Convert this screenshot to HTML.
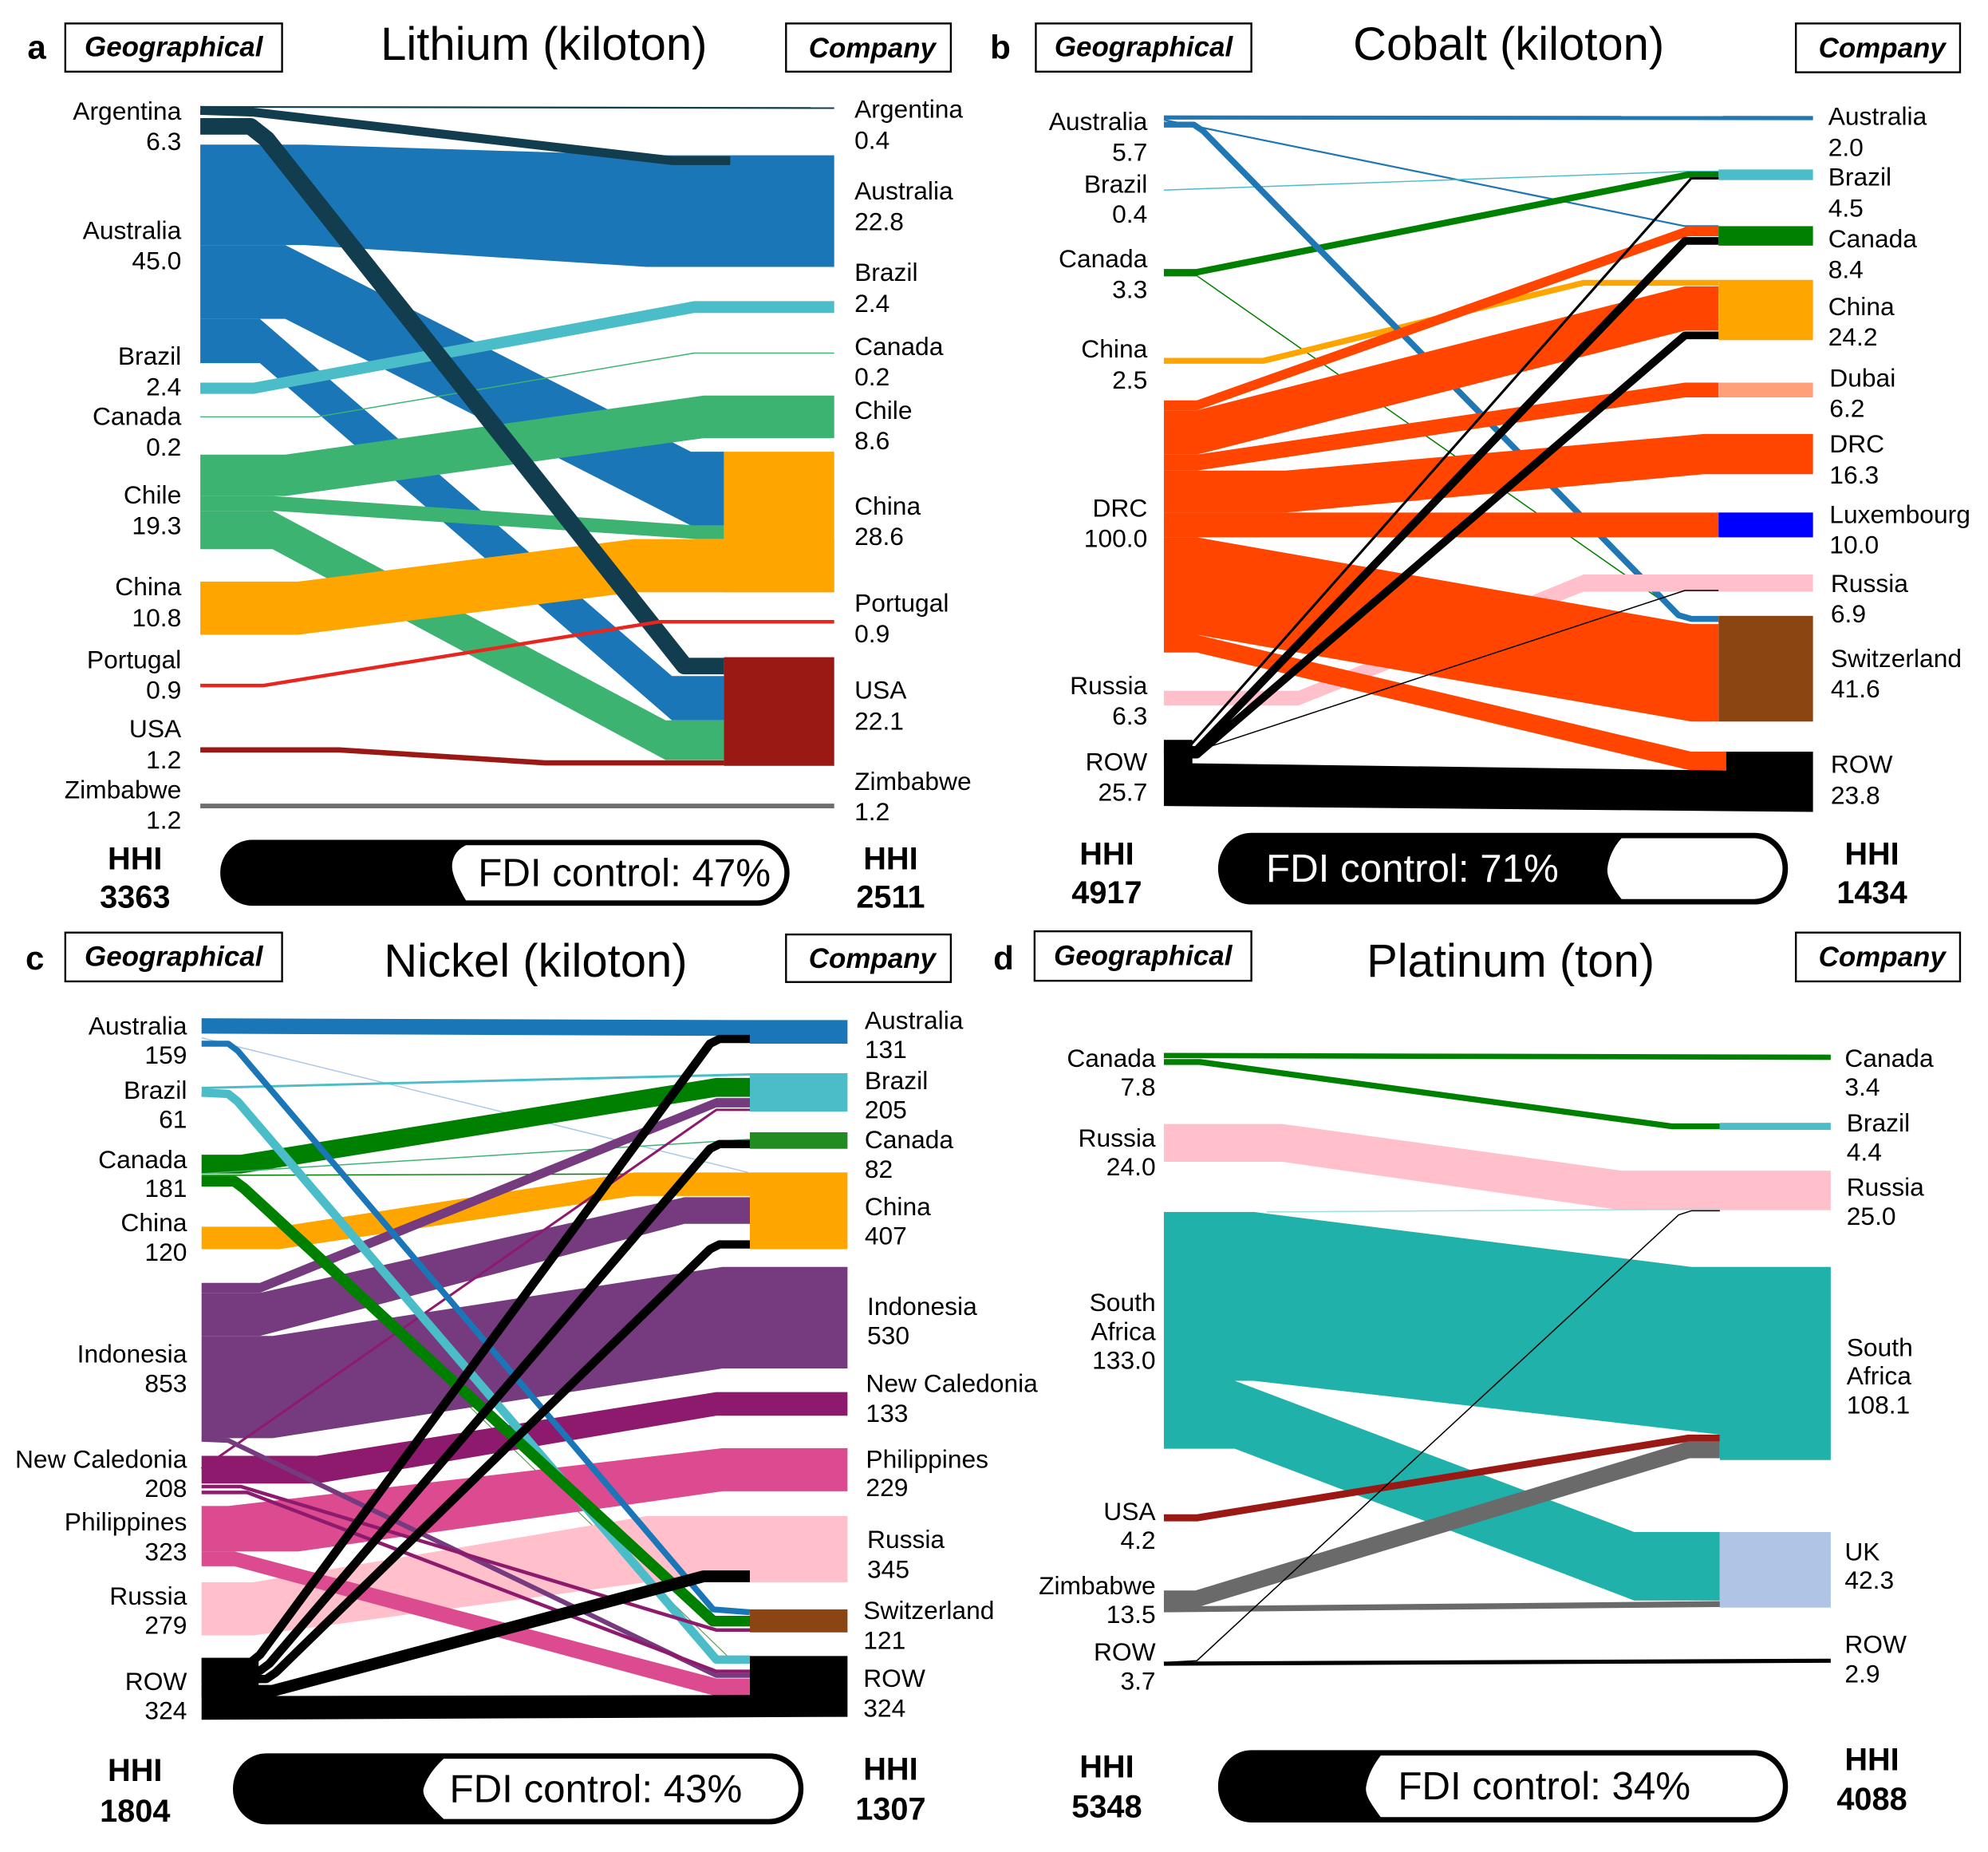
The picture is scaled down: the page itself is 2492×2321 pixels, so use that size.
<!DOCTYPE html>
<html><head><meta charset="utf-8"><style>
html,body{margin:0;padding:0;background:#fff}
svg{display:block}
text{font-family:"Liberation Sans",Arial,sans-serif;fill:#000}
.l{font-size:40px;dominant-baseline:central}
.e{text-anchor:end}
.t{font-size:73px;text-anchor:middle;dominant-baseline:central}
.bx{font-size:44px;font-weight:bold;font-style:italic;text-anchor:middle;dominant-baseline:central}
.h{font-size:50px;font-weight:bold;text-anchor:middle;dominant-baseline:central}
.f{font-size:62px;text-anchor:middle;dominant-baseline:central}
.pl{font-size:53px;font-weight:bold;text-anchor:middle;dominant-baseline:central}
polyline{fill:none;stroke-linejoin:round}
</style></head><body>
<svg width="2492" height="2321" viewBox="0 0 2492 2321" xmlns="http://www.w3.org/2000/svg">
<rect width="2492" height="2321" fill="#fff"/>

<!-- ================= PANEL A shapes ================= -->
<g transform="translate(0,0) scale(0.7946,0.74)">
<polyline points="316,181 1316,183" stroke="#123d4f" stroke-width="3"/>
<polygon fill="#1a76b7" points="316,245 480,245 1020,263 1316,263 1316,452 1020,452 480,415 316,415"/>
<polygon fill="#1a76b7" points="316,415 450,415 1090,765 1142,765 1142,890 1090,890 450,540 316,540"/>
<polygon fill="#1a76b7" points="316,540 410,540 1060,1145 1142,1145 1142,1220 1060,1220 410,615 316,615"/>
<polyline points="316,187 400,190 1060,272 1152,272" stroke="#123d4f" stroke-width="15"/>
<polygon fill="#4bbdc8" points="316,648 400,648 1095,510 1316,510 1316,530 1095,530 400,667 316,667"/>
<polyline points="316,706 500,706 1095,598 1316,598" stroke="#3cb371" stroke-width="2"/>
<polygon fill="#3cb371" points="316,770 450,770 1110,670 1316,670 1316,742 1110,742 450,840 316,840"/>
<polygon fill="#3cb371" points="316,840 430,840 1100,890 1142,890 1142,913 1100,913 430,865 316,865"/>
<polygon fill="#3cb371" points="316,865 430,865 1050,1220 1142,1220 1142,1287 1050,1287 430,930 316,930"/>
<polygon fill="#ffa500" points="316,985 470,985 1000,913 1316,913 1316,1003 1000,1003 470,1075 316,1075"/>
<rect x="1142" y="765" width="174" height="238" fill="#ffa500"/>
<polyline points="316,214 395,214 420,235 1080,1128 1142,1128" stroke="#123d4f" stroke-width="28"/>
<rect x="1142" y="1113" width="174" height="184" fill="#9b1915"/>
<polyline points="316,1161 415,1161 1040,1053 1316,1053" stroke="#e8261e" stroke-width="6"/>
<polyline points="316,1270 535,1270 860,1292 1142,1292" stroke="#9b1915" stroke-width="9"/>
<polyline points="316,1365 1316,1365" stroke="#6e6e6e" stroke-width="8"/>
</g>

<!-- ================= PANEL B shapes ================= -->
<g transform="translate(1246,0) scale(0.7946,0.74)">
<polyline points="268,199 1292,200" stroke="#1f77b4" stroke-width="7"/>
<polyline points="268,203 1090,383 1143,383" stroke="#1f77b4" stroke-width="3"/>
<polyline points="268,322 1100,290 1143,290" stroke="#4bbdc8" stroke-width="2"/>
<rect x="1143" y="287" width="149" height="18" fill="#4bbdc8"/>
<polyline points="268,461 320,461 1095,296 1143,296" stroke="#008000" stroke-width="11"/>
<polyline points="268,467 320,467 1100,1052 1143,1052" stroke="#008000" stroke-width="2"/>
<polyline points="268,611 425,611 930,479 1143,479" stroke="#ffa500" stroke-width="10"/>
<polyline points="268,211 315,211 330,222 1080,1042 1100,1048 1143,1048" stroke="#1f77b4" stroke-width="10"/>
<polygon fill="#ffc0cb" points="268,1170 480,1170 930,973 1292,973 1292,1002 930,1002 480,1195 268,1195"/>
<rect x="1143" y="1043" width="149" height="179" fill="#8b4513"/>
<polygon fill="#ff4500" points="268,678 320,678 1095,383 1143,383 1143,400 1095,400 320,695 268,695"/>
<polygon fill="#ff4500" points="268,695 320,695 1090,485 1143,485 1143,560 1090,560 320,770 268,770"/>
<polygon fill="#ff4500" points="268,770 320,770 1090,648 1143,648 1143,673 1090,673 320,797 268,797"/>
<polygon fill="#ff4500" points="268,797 460,797 1120,735 1292,735 1292,803 1120,803 460,868 268,868"/>
<polygon fill="#ff4500" points="268,868 1143,868 1143,910 268,910"/>
<polygon fill="#ff4500" points="268,910 320,910 1100,1057 1143,1057 1143,1222 1100,1222 320,1075 268,1075"/>
<polygon fill="#ff4500" points="268,1075 320,1075 1100,1273 1155,1273 1155,1305 1100,1305 320,1105 268,1105"/>
<rect x="1143" y="383" width="149" height="33" fill="#008000"/>
<rect x="1143" y="474" width="149" height="102" fill="#ffa500"/>
<rect x="1143" y="648" width="149" height="25" fill="#ffa07a"/>
<rect x="1143" y="868" width="149" height="42" fill="#0000ff"/>
<polygon fill="#000" points="268,1292 1155,1305 1155,1273 1292,1273 1292,1375 268,1365"/>
<rect x="268" y="1253" width="45" height="40" fill="#000"/>
<polyline points="268,1262 310,1262 1100,302 1143,302" stroke="#000" stroke-width="4"/>
<polyline points="268,1270 320,1270 1090,408 1143,408" stroke="#000" stroke-width="13"/>
<polyline points="268,1278 320,1278 1090,568 1143,568" stroke="#000" stroke-width="13"/>
<polyline points="268,1290 1090,1000 1143,1000" stroke="#000" stroke-width="2"/>
</g>

<!-- ================= PANEL C shapes ================= -->
<g transform="translate(0,1160) scale(0.7946,0.74)">
<polygon fill="#1a76b7" points="318,157 1183,160 1337,160 1337,200 1183,200 1183,187 318,183"/>
<polyline points="318,190 1180,418" stroke="#aac8e6" stroke-width="2"/>
<polyline points="318,275 1183,252" stroke="#4bbdc8" stroke-width="4"/>
<rect x="1183" y="250" width="154" height="65" fill="#4bbdc8"/>
<rect x="1183" y="350" width="154" height="28" fill="#228b22"/>
<polygon fill="#008000" points="318,388 380,388 1130,258 1183,258 1183,290 1130,290 380,420 318,420"/>
<polyline points="318,420 1183,362" stroke="#3cb371" stroke-width="2"/>
<polyline points="318,423 1183,420" stroke="#008000" stroke-width="2"/>
<polygon fill="#ffa500" points="318,510 440,510 1000,418 1183,418 1183,458 1000,458 440,548 318,548"/>
<rect x="1183" y="418" width="154" height="130" fill="#ffa500"/>
<polyline points="318,440 380,440 1160,1250" stroke="#5a9a5a" stroke-width="1.5"/>
<polygon fill="#763a7f" points="318,605 410,605 1130,292 1183,292 1183,308 1130,308 410,622 318,622"/>
<polygon fill="#763a7f" points="318,622 410,622 1080,460 1183,460 1183,505 1080,505 410,695 318,695"/>
<polygon fill="#763a7f" points="318,695 430,695 1140,578 1337,578 1337,750 1140,750 430,868 318,868"/>
<polygon fill="#ffc0cb" points="318,1112 400,1112 1020,1000 1337,1000 1337,1112 1020,1112 400,1202 318,1202"/>
<polygon fill="#8e1a6e" points="318,898 500,898 1130,790 1337,790 1337,830 1130,830 500,945 318,945"/>
<polygon fill="#dc4a8f" points="318,983 360,983 1140,885 1337,885 1337,958 1140,958 470,1060 318,1060"/>
<polyline points="318,920 1130,312 1183,312" stroke="#8e1a6e" stroke-width="4"/>
<polyline points="318,200 360,200 375,212 1125,1158 1183,1163" stroke="#1a76b7" stroke-width="10"/>
<polyline points="318,283 360,285 375,298 1130,1243 1183,1243" stroke="#4bbdc8" stroke-width="14"/>
<polyline points="318,433 370,433 385,445 1125,1178 1183,1178" stroke="#008000" stroke-width="18"/>
<polyline points="318,870 360,872 1130,1270 1183,1270" stroke="#763a7f" stroke-width="8"/>
<polyline points="318,950 380,950 1130,1193 1183,1193" stroke="#8e1a6e" stroke-width="6"/>
<polyline points="318,960 390,960 1130,1263 1183,1263" stroke="#8e1a6e" stroke-width="6"/>
<polygon fill="#dc4a8f" points="318,1060 370,1060 1130,1275 1183,1275 1183,1305 1130,1305 370,1085 318,1085"/>
<rect x="1183" y="1158" width="154" height="39" fill="#8b4513"/>
<polygon fill="#000" points="318,1305 1183,1303 1183,1237 1337,1237 1337,1340 318,1345"/>
<rect x="318" y="1240" width="90" height="65" fill="#000"/>
<polyline points="318,1248 395,1248 410,1235 1120,200 1135,192 1183,192" stroke="#000" stroke-width="14"/>
<polyline points="318,1262 410,1262 425,1250 1120,378 1135,370 1183,370" stroke="#000" stroke-width="14"/>
<polyline points="318,1276 420,1276 435,1265 1120,548 1135,540 1183,540" stroke="#000" stroke-width="14"/>
<polyline points="318,1296 430,1296 1110,1102 1183,1102" stroke="#000" stroke-width="20"/>
</g>

<!-- ================= PANEL D shapes ================= -->
<g transform="translate(1246,1160) scale(0.7946,0.74)">
<polyline points="268,220 1320,223" stroke="#008000" stroke-width="9"/>
<polyline points="268,231 325,231 1070,340 1145,340" stroke="#008000" stroke-width="10"/>
<rect x="1145" y="334" width="175" height="12" fill="#4bbdc8"/>
<polygon fill="#ffc0cb" points="268,336 455,336 990,415 1320,415 1320,482 990,482 455,400 268,400"/>
<polygon fill="#20b2aa" points="268,485 410,485 1100,578 1320,578 1320,905 1145,905 1145,862 410,771 268,771"/>
<polyline points="430,485 1145,480" stroke="#9fe0dc" stroke-width="2"/>
<polygon fill="#20b2aa" points="268,771 380,771 1010,1027 1145,1027 1145,1143 1010,1143 380,886 268,886"/>
<rect x="1145" y="1027" width="175" height="128" fill="#b0c4e6"/>
<polyline points="268,1003 320,1003 1095,868 1145,868" stroke="#9b1915" stroke-width="12"/>
<polyline points="268,1140 320,1140 1095,888 1145,888" stroke="#6a6a6a" stroke-width="28"/>
<polyline points="268,1158 1145,1149" stroke="#6a6a6a" stroke-width="10"/>
<polyline points="268,1248 320,1245 1080,490 1100,483 1145,483" stroke="#000" stroke-width="2"/>
<polyline points="268,1250 1320,1245" stroke="#000" stroke-width="7"/>
</g>

<!-- ================= TEXT / FRAMES (uniform scale) ================= -->
<!-- Panel A -->
<g transform="translate(0,0) scale(0.7946)">
<text class="pl" x="58" y="74">a</text>
<rect x="103" y="37" width="342" height="76" fill="none" stroke="#000" stroke-width="3"/>
<text class="bx" x="274" y="74">Geographical</text>
<text class="t" x="858" y="70">Lithium (kiloton)</text>
<rect x="1240" y="37" width="260" height="76" fill="none" stroke="#000" stroke-width="3"/>
<text class="bx" x="1376" y="76">Company</text>
<text class="l e" x="286" y="175">Argentina</text><text class="l e" x="286" y="223">6.3</text>
<text class="l e" x="286" y="363">Australia</text><text class="l e" x="286" y="411">45.0</text>
<text class="l e" x="286" y="561">Brazil</text><text class="l e" x="286" y="610">2.4</text>
<text class="l e" x="286" y="656">Canada</text><text class="l e" x="286" y="705">0.2</text>
<text class="l e" x="286" y="780">Chile</text><text class="l e" x="286" y="829">19.3</text>
<text class="l e" x="286" y="925">China</text><text class="l e" x="286" y="974">10.8</text>
<text class="l e" x="286" y="1040">Portugal</text><text class="l e" x="286" y="1088">0.9</text>
<text class="l e" x="286" y="1149">USA</text><text class="l e" x="286" y="1198">1.2</text>
<text class="l e" x="286" y="1245">Zimbabwe</text><text class="l e" x="286" y="1293">1.2</text>
<text class="l" x="1348" y="172">Argentina</text><text class="l" x="1348" y="221">0.4</text>
<text class="l" x="1348" y="301">Australia</text><text class="l" x="1348" y="349">22.8</text>
<text class="l" x="1348" y="429">Brazil</text><text class="l" x="1348" y="478">2.4</text>
<text class="l" x="1348" y="546">Canada</text><text class="l" x="1348" y="594">0.2</text>
<text class="l" x="1348" y="647">Chile</text><text class="l" x="1348" y="695">8.6</text>
<text class="l" x="1348" y="798">China</text><text class="l" x="1348" y="846">28.6</text>
<text class="l" x="1348" y="951">Portugal</text><text class="l" x="1348" y="999">0.9</text>
<text class="l" x="1348" y="1088">USA</text><text class="l" x="1348" y="1137">22.1</text>
<text class="l" x="1348" y="1232">Zimbabwe</text><text class="l" x="1348" y="1280">1.2</text>
<text class="h" x="213" y="1355">HHI</text><text class="h" x="213" y="1415">3363</text>
<text class="h" x="1405" y="1355">HHI</text><text class="h" x="1405" y="1415">2511</text>
<rect x="350" y="1327" width="893" height="99" rx="48" ry="49" fill="#000" stroke="#000" stroke-width="5"/>
<path d="M735,1333 L1195,1333 A42,43 0 0 1 1195,1420 L735,1420 C715,1385 710,1370 715,1355 C718,1345 725,1338 735,1333 Z" fill="#fff"/>
<text class="f" x="985" y="1377">FDI control: 47%</text>
</g>

<!-- Panel B -->
<g transform="translate(1246,0) scale(0.7946)">
<text class="pl" x="10" y="74">b</text>
<rect x="66" y="37" width="340" height="76" fill="none" stroke="#000" stroke-width="3"/>
<text class="bx" x="236" y="74">Geographical</text>
<text class="t" x="812" y="70">Cobalt (kiloton)</text>
<rect x="1265" y="37" width="259" height="77" fill="none" stroke="#000" stroke-width="3"/>
<text class="bx" x="1401" y="76">Company</text>
<text class="l e" x="242" y="191">Australia</text><text class="l e" x="242" y="240">5.7</text>
<text class="l e" x="242" y="290">Brazil</text><text class="l e" x="242" y="337">0.4</text>
<text class="l e" x="242" y="408">Canada</text><text class="l e" x="242" y="456">3.3</text>
<text class="l e" x="242" y="550">China</text><text class="l e" x="242" y="599">2.5</text>
<text class="l e" x="242" y="801">DRC</text><text class="l e" x="242" y="849">100.0</text>
<text class="l e" x="242" y="1081">Russia</text><text class="l e" x="242" y="1129">6.3</text>
<text class="l e" x="242" y="1201">ROW</text><text class="l e" x="242" y="1249">25.7</text>
<text class="l" x="1316" y="183">Australia</text><text class="l" x="1316" y="232">2.0</text>
<text class="l" x="1316" y="279">Brazil</text><text class="l" x="1316" y="328">4.5</text>
<text class="l" x="1316" y="376">Canada</text><text class="l" x="1316" y="425">8.4</text>
<text class="l" x="1316" y="483">China</text><text class="l" x="1316" y="531">24.2</text>
<text class="l" x="1318" y="596">Dubai</text><text class="l" x="1318" y="644">6.2</text>
<text class="l" x="1318" y="700">DRC</text><text class="l" x="1318" y="749">16.3</text>
<text class="l" x="1318" y="811">Luxembourg</text><text class="l" x="1318" y="859">10.0</text>
<text class="l" x="1320" y="920">Russia</text><text class="l" x="1320" y="968">6.9</text>
<text class="l" x="1320" y="1038">Switzerland</text><text class="l" x="1320" y="1086">41.6</text>
<text class="l" x="1320" y="1205">ROW</text><text class="l" x="1320" y="1254">23.8</text>
<text class="h" x="178" y="1347">HHI</text><text class="h" x="178" y="1408">4917</text>
<text class="h" x="1385" y="1347">HHI</text><text class="h" x="1385" y="1408">1434</text>
<rect x="356" y="1316" width="894" height="108" rx="50" ry="54" fill="#000" stroke="#000" stroke-width="5"/>
<path d="M990,1322 L1198,1322 A46,48 0 0 1 1198,1418 L990,1418 C972,1395 966,1380 968,1368 C970,1352 978,1335 990,1322 Z" fill="#fff"/>
<text class="f" x="660" y="1370" style="fill:#fff">FDI control: 71%</text>
</g>

<!-- Panel C -->
<g transform="translate(0,1160) scale(0.7946)">
<text class="pl" x="55" y="51">c</text>
<rect x="103" y="11" width="342" height="77" fill="none" stroke="#000" stroke-width="3"/>
<text class="bx" x="274" y="49">Geographical</text>
<text class="t" x="845" y="56">Nickel (kiloton)</text>
<rect x="1240" y="14" width="260" height="75" fill="none" stroke="#000" stroke-width="3"/>
<text class="bx" x="1376" y="52">Company</text>
<text class="l e" x="295" y="158">Australia</text><text class="l e" x="295" y="204">159</text>
<text class="l e" x="295" y="259">Brazil</text><text class="l e" x="295" y="305">61</text>
<text class="l e" x="295" y="369">Canada</text><text class="l e" x="295" y="414">181</text>
<text class="l e" x="295" y="468">China</text><text class="l e" x="295" y="515">120</text>
<text class="l e" x="295" y="675">Indonesia</text><text class="l e" x="295" y="722">853</text>
<text class="l e" x="295" y="841">New Caledonia</text><text class="l e" x="295" y="887">208</text>
<text class="l e" x="295" y="940">Philippines</text><text class="l e" x="295" y="987">323</text>
<text class="l e" x="295" y="1057">Russia</text><text class="l e" x="295" y="1103">279</text>
<text class="l e" x="295" y="1192">ROW</text><text class="l e" x="295" y="1238">324</text>
<text class="l" x="1364" y="149">Australia</text><text class="l" x="1364" y="195">131</text>
<text class="l" x="1364" y="244">Brazil</text><text class="l" x="1364" y="290">205</text>
<text class="l" x="1364" y="337">Canada</text><text class="l" x="1364" y="384">82</text>
<text class="l" x="1364" y="443">China</text><text class="l" x="1364" y="489">407</text>
<text class="l" x="1368" y="600">Indonesia</text><text class="l" x="1368" y="646">530</text>
<text class="l" x="1366" y="722">New Caledonia</text><text class="l" x="1366" y="769">133</text>
<text class="l" x="1366" y="841">Philippines</text><text class="l" x="1366" y="886">229</text>
<text class="l" x="1368" y="968">Russia</text><text class="l" x="1368" y="1015">345</text>
<text class="l" x="1362" y="1080">Switzerland</text><text class="l" x="1362" y="1127">121</text>
<text class="l" x="1362" y="1187">ROW</text><text class="l" x="1362" y="1234">324</text>
<text class="h" x="213" y="1333">HHI</text><text class="h" x="213" y="1397">1804</text>
<text class="h" x="1405" y="1331">HHI</text><text class="h" x="1405" y="1394">1307</text>
<rect x="370" y="1308" width="895" height="107" rx="50" ry="53" fill="#000" stroke="#000" stroke-width="5"/>
<path d="M700,1314 L1213,1314 A46,47 0 0 1 1213,1409 L700,1409 C680,1390 666,1375 668,1362 C672,1345 685,1328 700,1314 Z" fill="#fff"/>
<text class="f" x="940" y="1362">FDI control: 43%</text>
</g>

<!-- Panel D -->
<g transform="translate(1246,1160) scale(0.7946)">
<text class="pl" x="15" y="51">d</text>
<rect x="64" y="9" width="342" height="78" fill="none" stroke="#000" stroke-width="3"/>
<text class="bx" x="235" y="48">Geographical</text>
<text class="t" x="815" y="56">Platinum (ton)</text>
<rect x="1265" y="11" width="259" height="77" fill="none" stroke="#000" stroke-width="3"/>
<text class="bx" x="1401" y="50">Company</text>
<text class="l e" x="255" y="209">Canada</text><text class="l e" x="255" y="254">7.8</text>
<text class="l e" x="255" y="335">Russia</text><text class="l e" x="255" y="380">24.0</text>
<text class="l e" x="255" y="594">South</text><text class="l e" x="255" y="640">Africa</text><text class="l e" x="255" y="685">133.0</text>
<text class="l e" x="255" y="924">USA</text><text class="l e" x="255" y="969">4.2</text>
<text class="l e" x="255" y="1041">Zimbabwe</text><text class="l e" x="255" y="1086">13.5</text>
<text class="l e" x="255" y="1145">ROW</text><text class="l e" x="255" y="1191">3.7</text>
<text class="l" x="1342" y="209">Canada</text><text class="l" x="1342" y="254">3.4</text>
<text class="l" x="1345" y="311">Brazil</text><text class="l" x="1345" y="357">4.4</text>
<text class="l" x="1345" y="412">Russia</text><text class="l" x="1345" y="458">25.0</text>
<text class="l" x="1345" y="665">South</text><text class="l" x="1345" y="710">Africa</text><text class="l" x="1345" y="756">108.1</text>
<text class="l" x="1342" y="987">UK</text><text class="l" x="1342" y="1032">42.3</text>
<text class="l" x="1342" y="1133">ROW</text><text class="l" x="1342" y="1180">2.9</text>
<text class="h" x="178" y="1327">HHI</text><text class="h" x="178" y="1390">5348</text>
<text class="h" x="1385" y="1316">HHI</text><text class="h" x="1385" y="1378">4088</text>
<rect x="356" y="1303" width="894" height="109" rx="50" ry="54" fill="#000" stroke="#000" stroke-width="5"/>
<path d="M610,1309 L1198,1309 A46,48 0 0 1 1198,1406 L610,1406 C595,1385 585,1372 587,1358 C590,1340 598,1325 610,1309 Z" fill="#fff"/>
<text class="f" x="868" y="1357">FDI control: 34%</text>
</g>
</svg>
</body></html>
